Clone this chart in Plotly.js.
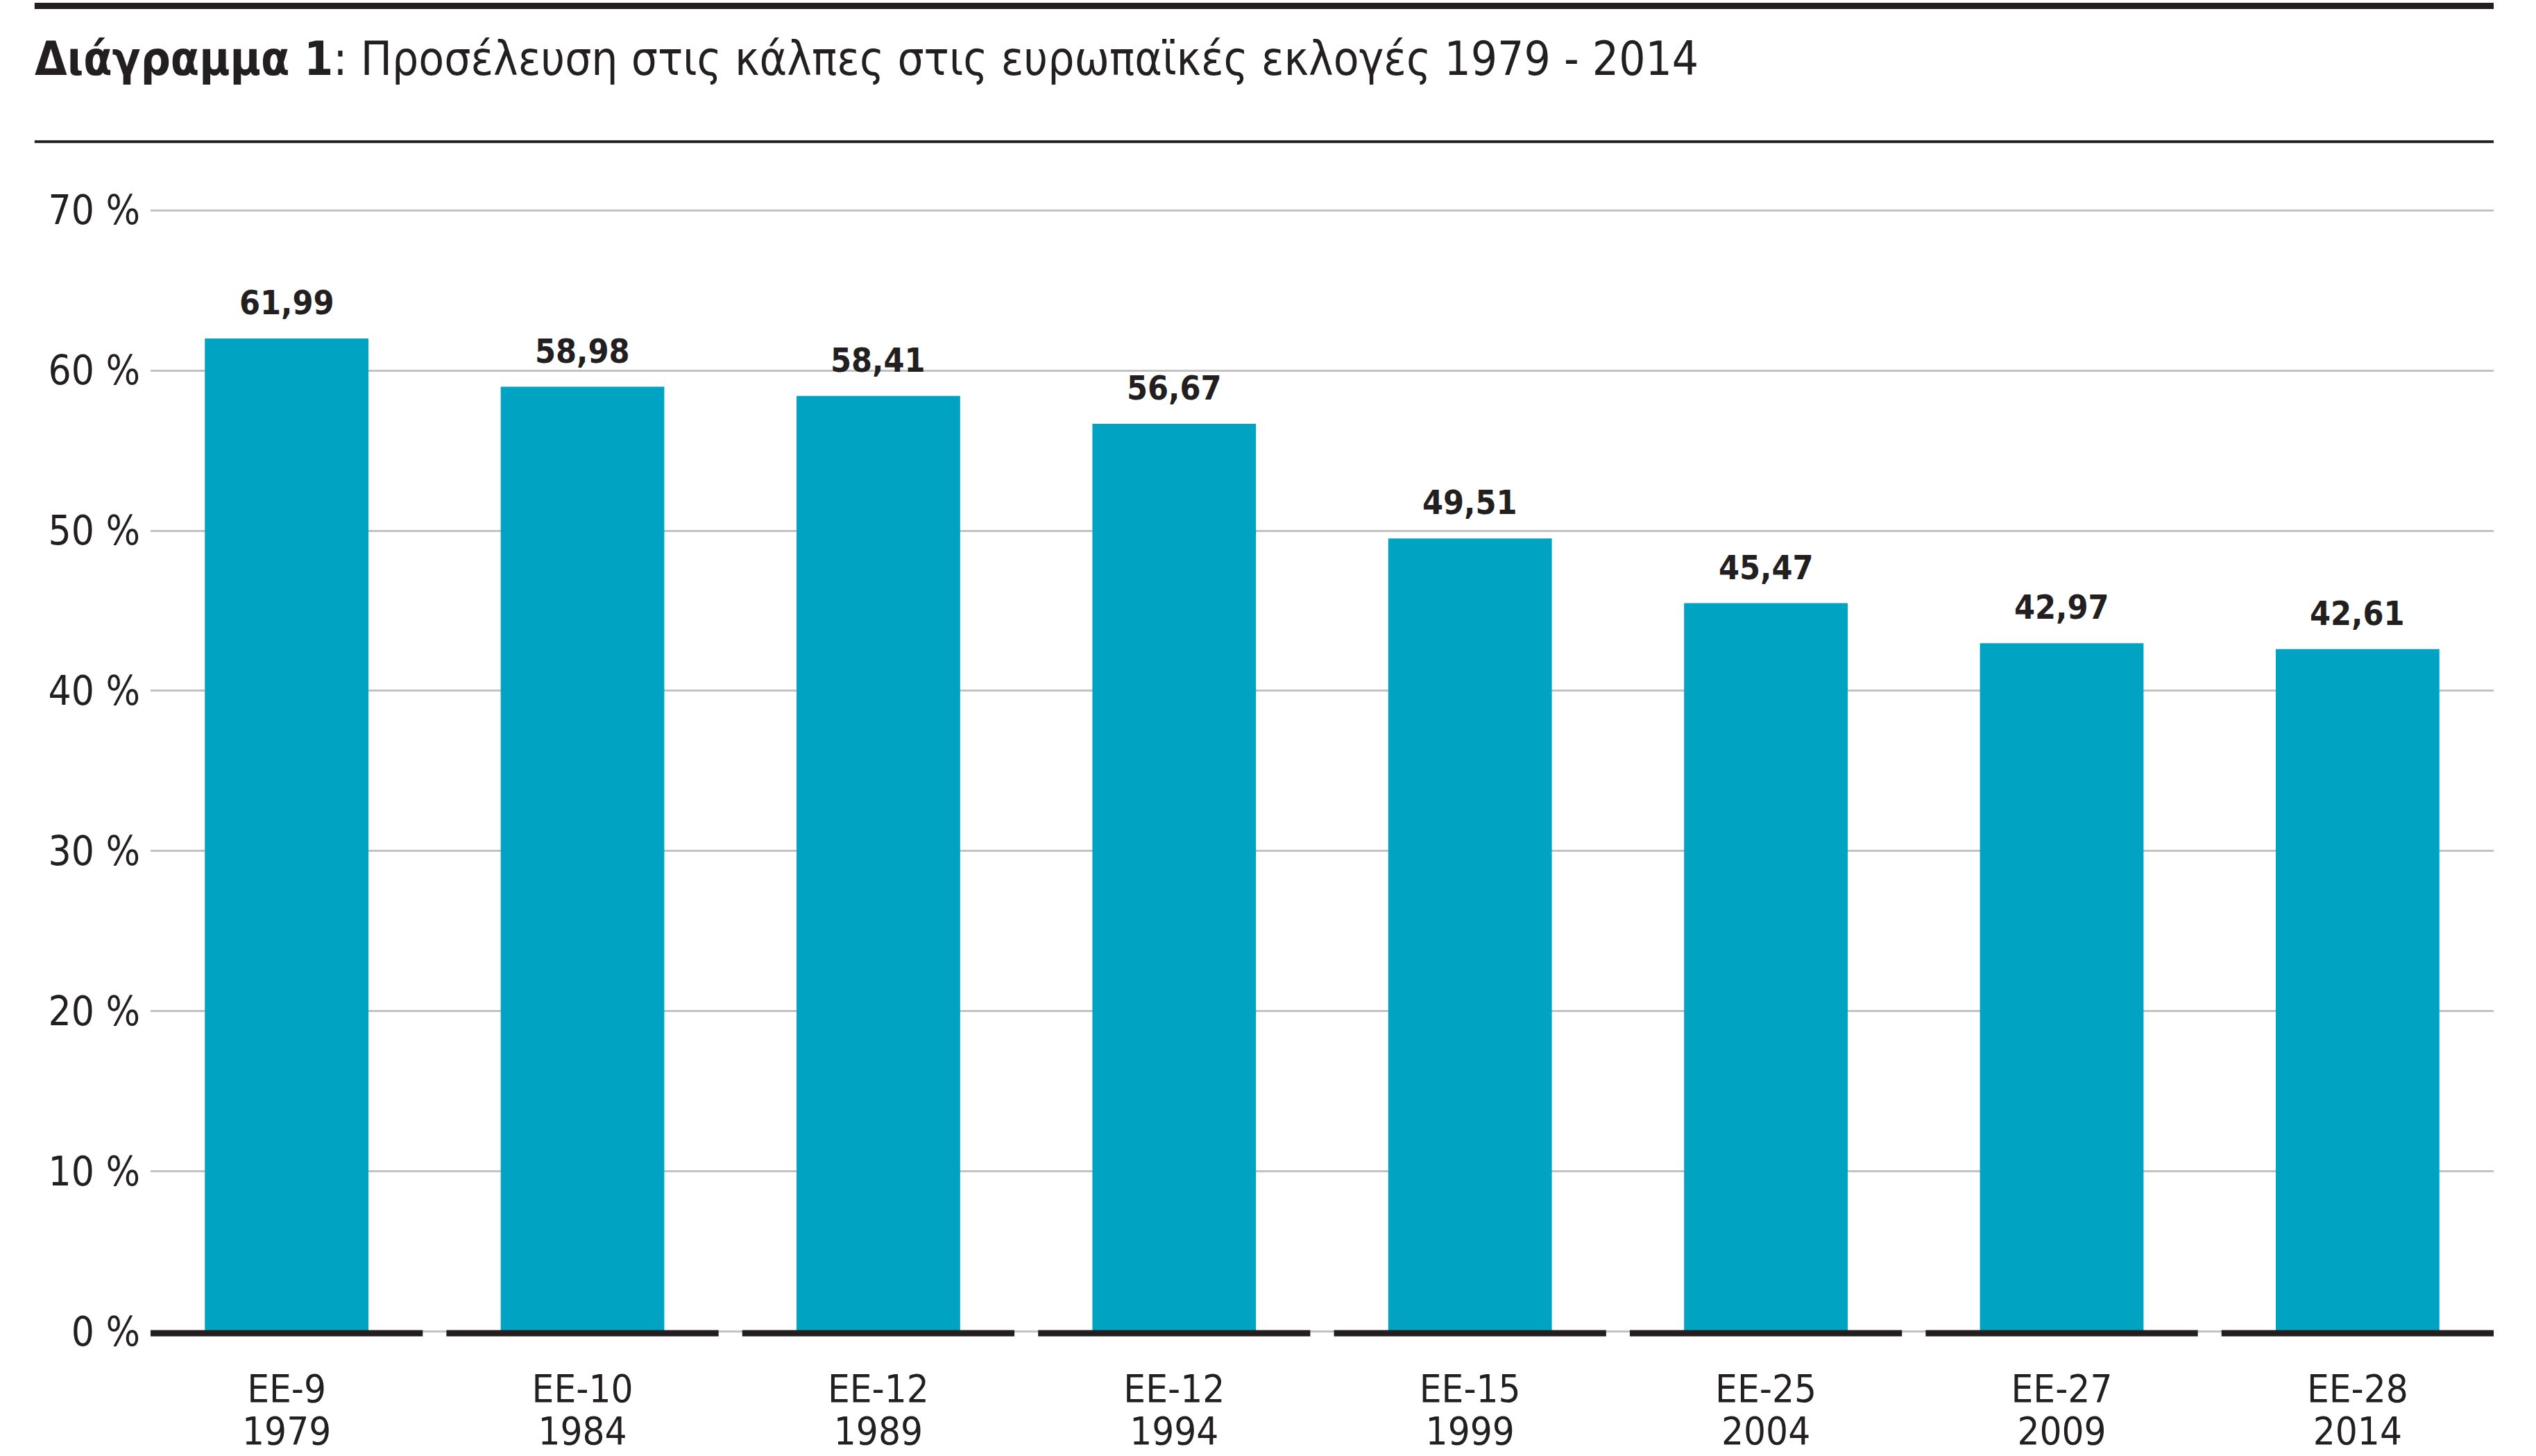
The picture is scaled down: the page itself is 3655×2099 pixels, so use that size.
<!DOCTYPE html>
<html>
<head>
<meta charset="utf-8">
<script src="https://cdn.plot.ly/plotly-3.0.1.min.js"></script>
<style>html,body{margin:0;padding:0;background:#fff;}#chart{width:3655px;height:2099px;}</style>
</head>
<body>
<div id="chart"></div>
<script>
var groups = ["EE-9", "EE-10", "EE-12", "EE-12", "EE-15", "EE-25", "EE-27", "EE-28"];
var years = ["1979", "1984", "1989", "1994", "1999", "2004", "2009", "2014"];
var turnout = [61.99, 58.98, 58.41, 56.67, 49.51, 45.47, 42.97, 42.61];
var yTicks = [0, 10, 20, 30, 40, 50, 60, 70];
var yTickText = ["0 %", "10 %", "20 %", "30 %", "40 %", "50 %", "60 %", "70 %"];

var FONT = '"DejaVu Sans Condensed", "Liberation Sans Narrow", sans-serif';
var INK = '#231f20';
var BAR = '#00a4c2';

var idx = years.map(function (_, i) { return i; });
var tickText = idx.map(function (i) {
  return '<span style="font-size:56px">' + groups[i] + '</span><br><span style="font-size:56px">' + years[i] + '</span>';
});

var trace = {
  type: 'bar',
  x: idx,
  y: turnout,
  marker: { color: BAR, line: { width: 0 } },
  hoverinfo: 'none',
  showlegend: false
};

var shapes = idx.map(function (i) {
  return {
    type: 'line', xref: 'x', yref: 'y',
    x0: i - 0.46, x1: i + 0.46, y0: -0.1, y1: -0.1,
    line: { color: INK, width: 9 }, layer: 'above'
  };
});
shapes.push({ type: 'line', xref: 'paper', yref: 'paper', x0: -0.0495, x1: 1, y0: 1.1646, y1: 1.1646, line: { color: INK, width: 9 } });
shapes.push({ type: 'line', xref: 'paper', yref: 'paper', x0: -0.0495, x1: 1, y0: 1.0460, y1: 1.0460, line: { color: INK, width: 4 } });

var annotations = idx.map(function (i) {
  return {
    x: i, y: turnout[i], xref: 'x', yref: 'y',
    text: '<b>' + turnout[i].toFixed(2).replace('.', ',') + '</b>',
    showarrow: false, yanchor: 'middle', xanchor: 'center', yshift: 52,
    font: { family: FONT, size: 48, color: INK }
  };
});

var layout = {
  width: 3655, height: 2099,
  margin: { l: 217, r: 61, t: 280, b: 170, pad: 0 },
  paper_bgcolor: '#fff', plot_bgcolor: '#fff',
  bargap: 0.447,
  title: {
    text: '<b>Διάγραμμα 1</b>: Προσέλευση στις κάλπες στις ευρωπαϊκές εκλογές 1979 - 2014',
    xref: 'container', yref: 'container', x: 0.0137, xanchor: 'left', y: 0.9595, yanchor: 'middle',
    font: { family: FONT, size: 67, color: INK }
  },
  xaxis: {
    range: [-0.46, 7.46], tickmode: 'array', tickvals: idx, ticktext: tickText,
    showgrid: false, zeroline: false, showline: false, ticks: '',
    tickfont: { family: FONT, size: 47, color: INK }, ticklabelstandoff: 44, fixedrange: true
  },
  yaxis: {
    range: [-0.4, 71], tickmode: 'array', tickvals: yTicks, ticktext: yTickText,
    showgrid: true, gridcolor: '#c2c2c2', gridwidth: 3, zeroline: false, showline: false, ticks: '',
    tickfont: { family: FONT, size: 58, color: INK }, ticklabelstandoff: 14, fixedrange: true
  },
  shapes: shapes,
  annotations: annotations
};

Plotly.newPlot('chart', [trace], layout, { displayModeBar: false, staticPlot: true });
</script>
</body>
</html>
